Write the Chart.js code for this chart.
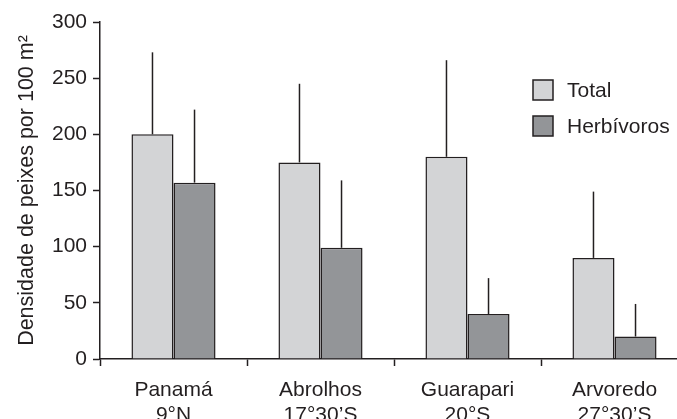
<!DOCTYPE html>
<html lang="pt">

<head>
    <meta charset="UTF-8">
    <title>Densidade de peixes</title>
    <style>
        html, body { margin: 0; padding: 0; background: #fff; overflow: hidden; }
        #wrap { width: 690px; height: 419px; }
    </style>
</head>

<body>
    <script src="https://cdn.jsdelivr.net/npm/chart.js@4/dist/chart.umd.min.js"></script>

    <div id="wrap"><canvas id="chart" width="690" height="419"></canvas></div>

    <script>
        // locais e latitudes
        const locais = [['Panamá', '9°N'], ['Abrolhos', '17°30’S'], ['Guarapari', '20°S'], ['Arvoredo', '27°30’S']]

        // médias
        const total = [200, 175, 180, 90]
        const herbivoros = [157, 99, 40, 20]

        // topo do desvio padrão
        const totalErro = [273, 245, 266, 149]
        const herbivorosErro = [222, 159, 72, 49]

        const yTicks = [0, 50, 100, 150, 200, 250, 300]

        const tinta = '#231f20'
        const fonte = 'Arial, "Liberation Sans", sans-serif'

        // barras de erro só para cima, sem tampa
        const barrasErro = {
            id: 'barrasErro',
            afterDatasetsDraw(chart) {
                const { ctx, scales: { y } } = chart
                ctx.save()
                ctx.strokeStyle = tinta
                ctx.lineWidth = 1.5
                chart.data.datasets.forEach((ds, i) => {
                    const meta = chart.getDatasetMeta(i)
                    meta.data.forEach((bar, j) => {
                        ctx.beginPath()
                        ctx.moveTo(bar.x, y.getPixelForValue(ds.data[j]))
                        ctx.lineTo(bar.x, y.getPixelForValue(ds.erro[j]))
                        ctx.stroke()
                    })
                })
                ctx.restore()
            }
        }

        // legenda dentro da área do gráfico
        const legenda = {
            id: 'legenda',
            afterDraw(chart) {
                const { ctx, chartArea } = chart
                const x = chartArea.left + 433
                let yy = chartArea.top + 58
                ctx.save()
                ctx.font = '21px ' + fonte
                ctx.textBaseline = 'middle'
                chart.data.datasets.forEach(ds => {
                    ctx.fillStyle = ds.backgroundColor
                    ctx.fillRect(x, yy, 20, 20)
                    ctx.strokeStyle = tinta
                    ctx.lineWidth = 1.5
                    ctx.strokeRect(x, yy, 20, 20)
                    ctx.fillStyle = tinta
                    ctx.fillText(ds.label, x + 34, yy + 11)
                    yy += 36
                })
                ctx.restore()
            }
        }

        const ctx = document.getElementById('chart').getContext('2d')

        new Chart(ctx, {
            type: 'bar',
            data: {
                labels: locais,
                datasets: [
                    {
                        label: 'Total',
                        data: total,
                        erro: totalErro,
                        backgroundColor: '#d3d4d6',
                        borderColor: tinta,
                        borderWidth: 1.5,
                        barPercentage: 1,
                        categoryPercentage: 0.572
                    },
                    {
                        label: 'Herbívoros',
                        data: herbivoros,
                        erro: herbivorosErro,
                        backgroundColor: '#939598',
                        borderColor: tinta,
                        borderWidth: 1.5,
                        barPercentage: 1,
                        categoryPercentage: 0.572
                    }
                ]
            },
            options: {
                responsive: false,
                animation: false,
                layout: { padding: { top: 22, right: 2, left: 0, bottom: 0 } },
                plugins: {
                    legend: { display: false },
                    tooltip: { enabled: false }
                },
                scales: {
                    x: {
                        offset: true,
                        grid: {
                            offset: true,
                            drawOnChartArea: false,
                            tickLength: 7,
                            tickWidth: 1.5,
                            tickColor: tinta
                        },
                        border: { color: tinta, width: 1.5 },
                        ticks: {
                            color: tinta,
                            font: { family: fonte, size: 21, lineHeight: 1.17 },
                            maxRotation: 0,
                            padding: 12
                        },
                        afterFit(scale) { scale.height = 60 }
                    },
                    y: {
                        min: 0,
                        max: 300,
                        afterBuildTicks(scale) { scale.ticks = yTicks.map(v => ({ value: v })) },
                        grid: {
                            drawOnChartArea: false,
                            tickLength: 7,
                            tickWidth: 1.5,
                            tickColor: tinta
                        },
                        border: { color: tinta, width: 1.5 },
                        ticks: {
                            color: tinta,
                            font: { family: fonte, size: 21 },
                            padding: 6
                        },
                        title: {
                            display: true,
                            text: 'Densidade de peixes por 100 m²',
                            color: tinta,
                            font: { family: fonte, size: 21.5 },
                            padding: { top: 14, bottom: 0 }
                        },
                        afterFit(scale) { scale.width = 100 }
                    }
                }
            },
            plugins: [barrasErro, legenda]
        })
    </script>

</body>

</html>
